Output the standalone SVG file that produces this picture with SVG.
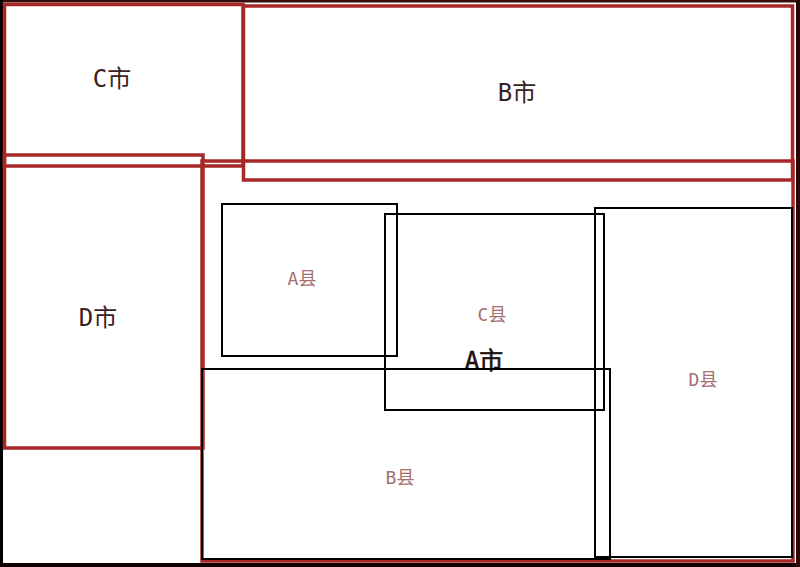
<svg xmlns="http://www.w3.org/2000/svg" width="800" height="567" viewBox="0 0 800 567">
<style>
.city{fill:none;stroke:#a8282a;stroke-width:3.5}
.county{fill:none;stroke:#000;stroke-width:2}
.cl{font-family:"DejaVu Sans Mono","Noto Sans CJK SC",monospace;font-size:24px;fill:#3a2222;text-anchor:middle;dominant-baseline:central}
.ql{font-family:"DejaVu Sans Mono","Noto Sans CJK SC",monospace;font-size:18px;fill:#a47070;text-anchor:middle;dominant-baseline:central}
</style>
<rect x="0" y="0" width="800" height="567" fill="#fff"/>
<g id="frame">
<rect x="0" y="0" width="800" height="2.5" fill="#3a0c0c"/>
<rect x="0" y="0" width="3" height="567" fill="#000"/>
<rect x="0" y="563" width="800" height="4" fill="#100"/>
<rect x="796" y="0" width="4" height="567" fill="#2a0606"/>
</g>
<g id="city-A">
<rect class="city" x="202" y="161" width="591" height="400"/>
<text class="cl" x="484" y="361" font-size="25" style="fill:#221010;stroke:#221010;stroke-width:0.6">A市</text>
</g>
<g id="city-C">
<rect class="city" x="4.5" y="4.5" width="238.5" height="161.5"/>
<text class="cl" x="112" y="79">C市</text>
</g>
<g id="city-B">
<rect class="city" x="243.5" y="6" width="549" height="174"/>
<text class="cl" x="517" y="93">B市</text>
</g>
<g id="city-D">
<rect class="city" x="4.5" y="155" width="198.5" height="293"/>
<text class="cl" x="98" y="318">D市</text>
</g>
<g id="county-A">
<rect class="county" x="222" y="204" width="175" height="152"/>
<text class="ql" x="302" y="278">A县</text>
</g>
<g id="county-C">
<rect class="county" x="385" y="214" width="219" height="196"/>
<text class="ql" x="492" y="314">C县</text>
</g>
<g id="county-B">
<rect class="county" x="202" y="369" width="408" height="190"/>
<text class="ql" x="400" y="477">B县</text>
</g>
<g id="county-D">
<rect class="county" x="595" y="208" width="197" height="349"/>
<text class="ql" x="703" y="379">D县</text>
</g>
<g id="connectors"></g>
</svg>
